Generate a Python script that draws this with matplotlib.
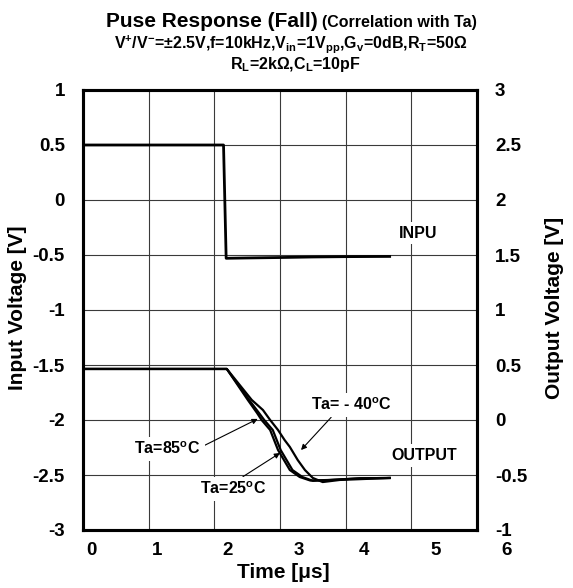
import matplotlib
matplotlib.use("Agg")
import matplotlib.pyplot as plt

plt.rcParams['font.family'] = ['Liberation Sans', 'DejaVu Sans']
plt.rcParams['font.weight'] = 'bold'
plt.rcParams['mathtext.fontset'] = 'custom'
plt.rcParams['mathtext.rm'] = 'Liberation Sans:bold'
plt.rcParams['mathtext.it'] = 'Liberation Sans:bold'
plt.rcParams['mathtext.bf'] = 'Liberation Sans:bold'
plt.rcParams['mathtext.default'] = 'bf'

# ---- data ----
x_ticks = [0, 1, 2, 3, 4, 5, 6]
left_ticks = [1, 0.5, 0, -0.5, -1, -1.5, -2, -2.5, -3]
right_ticks = [3, 2.5, 2, 1.5, 1, 0.5, 0, -0.5, -1]

input_t = [0.0, 2.14, 2.18, 2.5, 3.0, 3.5, 4.0, 4.67]
input_v = [0.5, 0.5, -0.53, -0.527, -0.523, -0.518, -0.515, -0.513]

out85_t = [0.0, 2.19, 2.51, 2.65, 2.72, 2.85, 2.97, 3.15, 3.30, 3.46, 3.76, 4.22, 4.67]
out85_v = [0.464, 0.464, 0.182, 0.064, 0.0, -0.091, -0.273, -0.455, -0.518, -0.550, -0.545, -0.53, -0.527]

out25_t = [0.0, 2.19, 2.53, 2.68, 2.76, 2.89, 3.01, 3.19, 3.34, 3.50, 3.78, 4.22, 4.67]
out25_v = [0.464, 0.464, 0.182, 0.064, 0.0, -0.091, -0.273, -0.455, -0.518, -0.553, -0.545, -0.53, -0.527]

outm40_t = [0.0, 2.19, 2.57, 2.74, 2.85, 2.97, 3.07, 3.15, 3.27, 3.38, 3.50, 3.65, 3.91, 4.67]
outm40_v = [0.464, 0.464, 0.182, 0.091, 0.0, -0.091, -0.182, -0.245, -0.364, -0.455, -0.527, -0.564, -0.545, -0.527]

fig = plt.figure(figsize=(5.73, 5.88), dpi=100)
ax = fig.add_axes([83/573, 1-530/588, 394/573, 440/588])
ax2 = ax.twinx()

ax.set_xlim(0, 6)
ax.set_ylim(-3, 1)
ax2.set_ylim(-1, 3)

ax.set_xticks(x_ticks)
ax.set_xticklabels([])
ax.set_yticks(left_ticks)
ax.set_yticklabels([f"{v:g}" for v in left_ticks], fontsize=13.5, fontweight='bold')
ax2.set_yticks(right_ticks)
ax2.set_yticklabels([f"{v:g}" for v in right_ticks], fontsize=13.5, fontweight='bold')
ax.tick_params(axis='y', length=0, pad=13)
ax.tick_params(axis='x', length=0)
ax2.tick_params(axis='y', length=0, pad=13)

ax.grid(True, color='#3a3a3a', linewidth=0.8)
for sp in list(ax.spines.values()) + list(ax2.spines.values()):
    sp.set_linewidth(2.2)

# x tick labels (placed like the reference, slightly off the grid)
label_px = [91.5, 157, 228, 299, 364, 436, 507]
for lab, px in zip(x_ticks, label_px):
    ax.text((px - 83) / 394, -12 / 440, str(lab), transform=ax.transAxes,
            ha='center', va='top', fontsize=13.5, fontweight='bold', clip_on=False)

ax.plot(input_t, input_v, color='black', linewidth=2.0, zorder=3)
ax2.plot(out85_t, out85_v, color='black', linewidth=1.6)
ax2.plot(out25_t, out25_v, color='black', linewidth=1.6)
ax2.plot(outm40_t, outm40_v, color='black', linewidth=1.6)

bb = dict(boxstyle='square,pad=0.25', facecolor='white', edgecolor='none')
ax2.text(5.11, 1.7, 'INPU', ha='center', va='center', fontsize=11.5, fontweight='bold', bbox=bb)
ax2.text(5.2, -0.32, 'OUTPUT', ha='center', va='center', fontsize=11.5, fontweight='bold', bbox=bb)

ap = dict(arrowstyle='-|>', color='black', lw=0.8, mutation_scale=8, shrinkA=0, shrinkB=0)
ax2.annotate(r'Ta=85$^{\mathrm{o}}$C', xy=(2.66, 0.01), xytext=(1.285, -0.264),
             ha='center', va='center', fontsize=11.5, fontweight='bold', bbox=bb,
             arrowprops=dict(ap, relpos=(1.0, 0.6)))
ax2.annotate(r'Ta=25$^{\mathrm{o}}$C', xy=(3.0, -0.30), xytext=(2.29, -0.627),
             ha='center', va='center', fontsize=11.5, fontweight='bold', bbox=bb,
             arrowprops=dict(ap, relpos=(0.55, 1.0)))
ax2.annotate(r'Ta= - 40$^{\mathrm{o}}$C', xy=(3.32, -0.273), xytext=(4.08, 0.136),
             ha='center', va='center', fontsize=11.5, fontweight='bold', bbox=bb,
             arrowprops=dict(ap, relpos=(0.3, 0.0)))

fig.text(18/573, 1-308/588, 'Input Voltage [V]', rotation=90, ha='center', va='center',
         fontsize=15, fontweight='bold')
fig.text(555/573, 1-308/588, 'Output Voltage [V]', rotation=90, ha='center', va='center',
         fontsize=15, fontweight='bold')
fig.text(283/573, 1-572/588, 'Time [μs]', ha='center', va='center', fontsize=15, fontweight='bold')

fig.text(318/573, 1-27/588, 'Puse Response (Fall)', ha='right', va='baseline',
         fontsize=15, fontweight='bold')
fig.text(322/573, 1-27/588, '(Correlation with Ta)', ha='left', va='baseline',
         fontsize=11.5, fontweight='bold')
fig.text(291/573, 1-44/588,
         r'V$^{+}$/V$^{-}$=±2.5V,f=10kHz,V$_{in}$=1V$_{pp}$,G$_{v}$=0dB,R$_{T}$=50Ω',
         ha='center', va='center', fontsize=11.5, fontweight='bold')
fig.text(295/573, 1-64/588, r'R$_{L}$=2kΩ,C$_{L}$=10pF', ha='center', va='center',
         fontsize=11.5, fontweight='bold')

fig.savefig('out.png', dpi=100)
